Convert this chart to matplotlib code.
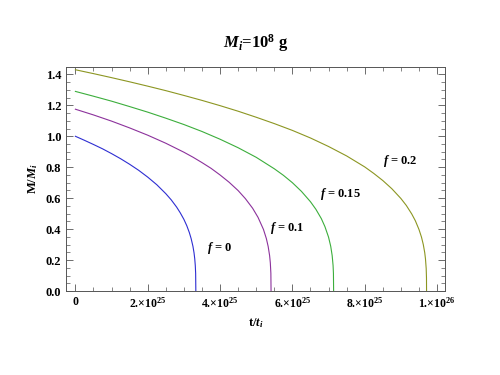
import numpy as np
import matplotlib
matplotlib.use("Agg")
import matplotlib.pyplot as plt
from matplotlib.ticker import MultipleLocator

# --- data (t in units of 1e25) ---
t_f0 = [0, 0.25, 0.5, 0.75, 1.0, 1.25, 1.5, 1.75, 2.0, 2.25, 2.5, 2.65, 2.8, 2.9,
        3.0, 3.08, 3.15, 3.2, 3.25, 3.28, 3.30, 3.315, 3.325, 3.33]
m_f0 = [1.0, 0.974, 0.947, 0.919, 0.888, 0.855, 0.819, 0.780, 0.736, 0.687, 0.629, 0.589,
        0.542, 0.505, 0.463, 0.422, 0.378, 0.339, 0.289, 0.247, 0.208, 0.165, 0.114, 0.0]

t_f01 = [0, 0.5, 1.0, 1.5, 2.0, 2.5, 3.0, 3.25, 3.5, 3.75, 4.0, 4.25, 4.5, 4.7, 4.9,
         5.05, 5.2, 5.28, 5.33, 5.37, 5.39, 5.405, 5.41]
m_f01 = [1.175, 1.138, 1.098, 1.054, 1.007, 0.955, 0.897, 0.865, 0.830, 0.793, 0.750,
         0.703, 0.649, 0.597, 0.535, 0.476, 0.398, 0.339, 0.288, 0.229, 0.182, 0.114, 0.0]

t_f015 = [0, 0.5, 1, 1.5, 2, 2.5, 3, 3.5, 4, 4.5, 5, 5.5, 5.75, 6.0, 6.25, 6.5, 6.65,
          6.8, 6.9, 7.0, 7.06, 7.1, 7.125, 7.135, 7.14]
m_f015 = [1.29, 1.259, 1.227, 1.192, 1.156, 1.117, 1.076, 1.031, 0.981, 0.926, 0.864,
          0.790, 0.748, 0.700, 0.644, 0.577, 0.528, 0.468, 0.416, 0.348, 0.289, 0.229,
          0.165, 0.115, 0.0]

t_f02 = [0, 0.5, 1, 1.5, 2, 2.5, 3, 3.5, 4, 4.5, 5, 5.5, 6, 6.5, 7, 7.5, 8.0, 8.25,
         8.5, 8.75, 9.0, 9.15, 9.3, 9.4, 9.5, 9.57, 9.62, 9.66, 9.68, 9.70, 9.708, 9.71]
m_f02 = [1.43, 1.405, 1.379, 1.352, 1.324, 1.295, 1.264, 1.232, 1.198, 1.162, 1.123,
         1.082, 1.038, 0.989, 0.934, 0.873, 0.802, 0.760, 0.714, 0.661, 0.598, 0.553,
         0.498, 0.454, 0.398, 0.348, 0.300, 0.247, 0.208, 0.145, 0.084, 0.0]

series = [
    (t_f0, m_f0, "#2e2ed2", r"$f$ = 0", (4.0, 0.28)),
    (t_f01, m_f01, "#8c329c", r"$f$ = 0.1", (5.85, 0.41)),
    (t_f015, m_f015, "#3cae3c", r"$f$ = 0.15", (7.32, 0.63)),
    (t_f02, m_f02, "#8c9622", r"$f$ = 0.2", (8.98, 0.84)),
]

xticks = [0, 2e25, 4e25, 6e25, 8e25, 1e26]
xticklabels = ["0", r"2.$\times$10$^{25}$", r"4.$\times$10$^{25}$",
               r"6.$\times$10$^{25}$", r"8.$\times$10$^{25}$", r"1.$\times$10$^{26}$"]
yticks = [0.0, 0.2, 0.4, 0.6, 0.8, 1.0, 1.2, 1.4]

# --- style: Times-like bold text ---
plt.rcParams["font.family"] = "Liberation Serif"
plt.rcParams["font.weight"] = "bold"
plt.rcParams["axes.titleweight"] = "bold"
plt.rcParams["axes.labelweight"] = "bold"
plt.rcParams["mathtext.fontset"] = "custom"
plt.rcParams["mathtext.rm"] = "Liberation Serif:bold"
plt.rcParams["mathtext.it"] = "Liberation Serif:italic:bold"
plt.rcParams["mathtext.bf"] = "Liberation Serif:bold"

fig = plt.figure(figsize=(5, 3.75), dpi=100)
ax = fig.add_axes([0.132, 0.224, 0.758, 0.597])

for t, m, col, lab, pos in series:
    ax.plot(np.array(t) * 1e25, m, color=col, lw=0.8)
    ax.text(pos[0] * 1e25, pos[1], lab, fontsize=9, ha="center", va="center")

ax.set_xlim(-0.26e25, 10.22e25)
ax.set_ylim(0, 1.447)

ax.set_xticks(xticks)
ax.set_xticklabels(xticklabels, fontsize=8.5)
ax.xaxis.set_minor_locator(MultipleLocator(0.5e25))
ax.set_yticks(yticks)
ax.set_yticklabels([f"{v:.1f}" for v in yticks], fontsize=9)
ax.yaxis.set_minor_locator(MultipleLocator(0.05))

ax.tick_params(which="both", direction="in", top=True, right=True, color="#555555")
ax.tick_params(which="major", length=5, width=0.6)
ax.tick_params(which="minor", length=3, width=0.5)
for s in ax.spines.values():
    s.set_color("#555555")
    s.set_linewidth(0.7)

ax.set_xlabel(r"t/$t_i$", fontsize=9)
ax.set_ylabel(r"M/$M_i$", fontsize=9)
ax.set_title(r"$M_i$=10$^8$ g", fontsize=12, pad=14)

fig.savefig("out.png", dpi=100)
